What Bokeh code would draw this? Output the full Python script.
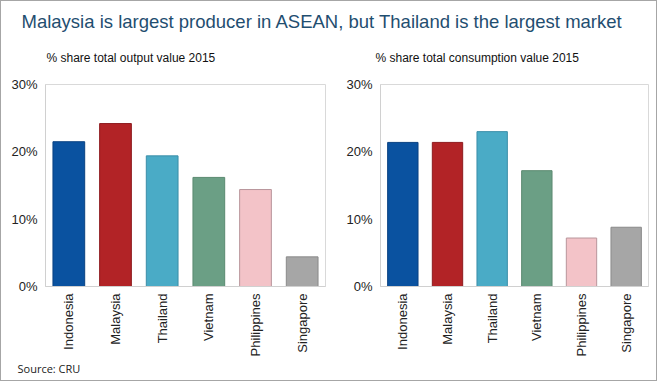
from math import pi
from bokeh.plotting import figure
from bokeh.models import Range1d, Label, NumeralTickFormatter, FixedTicker, ColumnDataSource
from bokeh.layouts import column, row
from bokeh.embed import file_html
from bokeh.resources import INLINE

# ---- data ----
countries = ["Indonesia", "Malaysia", "Thailand", "Vietnam", "Philippines", "Singapore"]
output_share = [0.215, 0.242, 0.194, 0.162, 0.144, 0.044]
consumption_share = [0.214, 0.214, 0.230, 0.172, 0.072, 0.088]
y_ticks = [0.0, 0.1, 0.2, 0.3]

title_text = "Malaysia is largest producer in ASEAN, but Thailand is the largest market"
left_subtitle = "% share total output value 2015"
right_subtitle = "% share total consumption value 2015"
source_text = "Source: CRU"

fill_colors = ["#0a52a0", "#b22326", "#4aabc6", "#6b9f85", "#f3c3c8", "#a6a6a6"]
line_colors = ["#0a4282", "#8e1b1f", "#3b8ea8", "#5b8a70", "#b8959b", "#8a8a8a"]

FONT = "Liberation Sans"
AXIS_GRAY = "#d0d0d0"


def header():
    p = figure(width=655, height=69, x_range=Range1d(0, 655), y_range=Range1d(69, 0),
               x_axis_type=None, y_axis_type=None, min_border=0,
               toolbar_location=None, output_backend="svg")
    p.grid.visible = False
    p.outline_line_color = None
    p.add_layout(Label(x=20, y=20, text=title_text, text_font=FONT, text_font_size="18.5px",
                       text_color="#1f4e70", text_baseline="alphabetic"))
    p.add_layout(Label(x=45, y=56, text=left_subtitle, text_font=FONT, text_font_size="12px",
                       text_color="#111111", text_baseline="alphabetic"))
    p.add_layout(Label(x=374, y=56, text=right_subtitle, text_font=FONT, text_font_size="12px",
                       text_color="#111111", text_baseline="alphabetic"))
    return p


def bar_chart(values, width, left, right):
    src = ColumnDataSource(dict(country=countries, value=values,
                                fill=fill_colors, line=line_colors))
    p = figure(x_range=countries, y_range=Range1d(0, 0.30), width=width, height=289,
               min_border_left=left, min_border_right=right, min_border_top=14,
               min_border_bottom=66, toolbar_location=None, output_backend="svg")
    p.vbar(x="country", top="value", width=0.68, source=src,
           fill_color="fill", line_color="line", line_width=1)
    p.grid.visible = False
    p.outline_line_color = "#d9d9d9"
    p.yaxis.ticker = FixedTicker(ticks=y_ticks)
    p.yaxis.formatter = NumeralTickFormatter(format="0%")
    for ax in (p.xaxis, p.yaxis):
        ax.major_tick_out = 0
        ax.major_tick_in = 0
        ax.minor_tick_out = 0
        ax.minor_tick_in = 0
        ax.axis_line_color = AXIS_GRAY
        ax.major_label_text_font = FONT
        ax.major_label_text_font_size = "13px"
        ax.major_label_text_color = "#222222"
    p.yaxis.major_label_standoff = 8
    p.xaxis.major_label_orientation = pi / 2
    p.xaxis.major_label_standoff = 7
    return p


def footer():
    p = figure(width=655, height=21, x_range=Range1d(0, 655), y_range=Range1d(21, 0),
               x_axis_type=None, y_axis_type=None, min_border=0,
               toolbar_location=None, output_backend="svg")
    p.grid.visible = False
    p.outline_line_color = None
    p.add_layout(Label(x=16, y=9, text=source_text, text_font="Open Sans", text_font_size="11px",
                       text_color="#222222", text_baseline="middle"))
    return p


p_head = header()
p1 = bar_chart(output_share, 329, 44, 5)
p2 = bar_chart(consumption_share, 326, 50, 8)
p_foot = footer()

layout = column(p_head, row(p1, p2, spacing=0), p_foot, spacing=0,
                styles={"border": "1px solid #a6a6a6"})
open("out.html", "w").write(file_html(layout, INLINE))
